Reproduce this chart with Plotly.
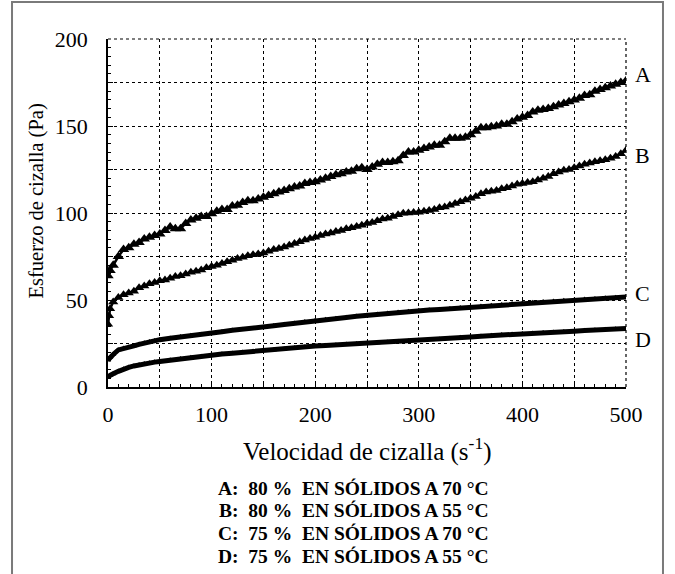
import plotly.graph_objects as go

# ---------------- data ----------------
series_names = ["A", "B", "C", "D"]
legend_lines = [
    "A:  80 %  EN SÓLIDOS A 70 °C",
    "B:  80 %  EN SÓLIDOS A 55 °C",
    "C:  75 %  EN SÓLIDOS A 70 °C",
    "D:  75 %  EN SÓLIDOS A 55 °C",
]
x_tick_vals = [0, 100, 200, 300, 400, 500]
y_tick_vals = [0, 50, 100, 150, 200]

A_x = [0, 2] + list(range(5, 505, 5))
A_y = [64, 67,
       70, 75, 79, 80, 82, 83, 85, 86, 87, 88,
       90, 92, 91, 91, 94, 96, 97, 98, 98, 99.5,
       101, 102, 102, 104, 104.5, 106, 107, 107, 108, 109,
       110, 111, 112, 113, 114, 115, 115.5, 117, 117.5, 118,
       119, 120, 121, 122, 122.5, 123.5, 124, 125.5, 126, 125,
       126.5, 128, 129, 129, 129.5, 130, 133, 135, 135, 136,
       137, 138, 139, 139, 141, 143, 143, 143, 143.5, 145,
       147, 149, 149, 149.5, 150, 151, 151, 152.5, 154, 155,
       156, 158, 159, 159.5, 160, 161, 162, 163, 164, 165,
       166, 167.5, 168, 170, 171, 172, 173, 174, 175, 176]

B_x = [0, 1, 2] + list(range(5, 505, 5))
B_y = [36, 41, 45,
       48.8, 51.5, 53, 54, 55, 57, 58, 59.4, 60, 61,
       61.5, 62.5, 63.5, 64, 65, 66, 66.5, 67.2, 68.5, 69.3,
       70, 71, 72, 72.9, 73.8, 74.5, 75.5, 76, 76.5, 77,
       78, 79, 79.6, 80.5, 81.5, 82.5, 83.5, 84.5, 85.3, 86,
       87, 88, 88.5, 89.3, 90, 91, 91.5, 92.2, 93, 94,
       94.5, 95.5, 96.5, 97, 98, 99, 99.8, 100, 100.3, 100.5,
       101, 101.5, 102, 103, 103.5, 104.5, 105.5, 106.5, 107.5, 108.5,
       109.5, 111, 112, 112.5, 113, 114, 114.5, 115.5, 116.5, 117,
       117.5, 118, 119, 120, 121, 122.5, 123.5, 124.5, 125, 126,
       127, 128, 128.7, 129.5, 130, 130.6, 131.5, 132.5, 134, 136]

CD_x = [0, 2, 5, 10, 15, 20, 25, 30, 35, 40, 45] + list(range(50, 510, 10))
C_y = [15.5, 17, 18.7, 21.3, 22.3, 22.9, 23.6, 24.5, 25.3, 26, 26.6,
       27.2, 28, 28.9, 29.6, 30.2, 31, 31.8, 32.6, 33.1, 33.6,
       34.4, 35.2, 35.9, 36.7, 37.5, 38.2, 38.8, 39.4, 40, 40.6,
       41.2, 41.8, 42.4, 42.9, 43.4, 43.9, 44.2, 44.6, 45, 45.5,
       45.9, 46.4, 46.9, 47.3, 47.8, 48.2, 48.6, 49, 49.3, 49.7,
       50, 50.4, 50.7, 51.1, 51.4, 51.8]
D_y = [6, 6.8, 7.6, 9, 10.3, 11.3, 12.1, 12.8, 13.3, 13.8, 14.3,
       14.7, 15.5, 16.3, 17, 17.6, 18.3, 18.9, 19.4, 20, 20.5,
       20.9, 21.3, 21.8, 22.4, 23, 23.6, 23.9, 24.2, 24.5, 24.8,
       25.1, 25.4, 25.7, 26.1, 26.5, 26.8, 27.2, 27.5, 27.9, 28.4,
       28.8, 29.2, 29.6, 30, 30.3, 30.6, 30.9, 31.2, 31.5, 31.8,
       32.1, 32.4, 32.7, 33, 33.3, 33.6]

series_x = [A_x, B_x, CD_x, CD_x]
series_y = [A_y, B_y, C_y, D_y]

# ---------------- figure ----------------
SERIF = "Times New Roman, Liberation Serif, DejaVu Serif, serif"
fig = go.Figure()

marker_sizes = [10, 9, 5.5, 5.5]
line_widths = [2.5, 2.5, 5, 5]
for name, xs, ys, ms, lw in zip(series_names, series_x, series_y, marker_sizes, line_widths):
    fig.add_trace(go.Scatter(
        x=xs, y=ys, name=name, mode="lines+markers",
        line=dict(color="black", width=lw),
        marker=dict(symbol="triangle-up", size=ms, color="black"),
        showlegend=False, hoverinfo="skip"))

# invisible trace to carry the tick overlay axes
fig.add_trace(go.Scatter(x=[0], y=[0], xaxis="x2", yaxis="y2", mode="markers",
                         marker=dict(opacity=0), showlegend=False, hoverinfo="skip"))

grid = dict(showgrid=True, gridcolor="black", griddash="dot", gridwidth=1)
fig.update_layout(
    width=675, height=574,
    margin=dict(l=108, r=49, t=39, b=187),
    paper_bgcolor="white", plot_bgcolor="white",
    font=dict(family=SERIF, size=22, color="black"),
    xaxis=dict(range=[0, 500], tickvals=x_tick_vals, ticks="outside", ticklen=7,
               tickcolor="rgba(0,0,0,0)", showline=True, linecolor="black", linewidth=1.5,
               zeroline=False, tickfont=dict(family=SERIF, size=22),
               minor=dict(dtick=50, tick0=0, ticks="", **grid), **grid),
    yaxis=dict(range=[0, 200], tickvals=y_tick_vals, ticks="outside", ticklen=14,
               tickcolor="rgba(0,0,0,0)", showline=True, linecolor="black", linewidth=1.5,
               zeroline=False, tickfont=dict(family=SERIF, size=22),
               minor=dict(dtick=25, tick0=0, ticks="", **grid), **grid),
    xaxis2=dict(range=[0, 500], overlaying="x", anchor="y", side="bottom",
                dtick=50, tick0=0, ticks="inside", ticklen=5, tickcolor="black",
                minor=dict(dtick=10, ticks="inside", ticklen=3, tickcolor="black"),
                showticklabels=False, showgrid=False, zeroline=False, showline=False),
    yaxis2=dict(range=[0, 200], overlaying="y", anchor="x", side="left",
                dtick=25, tick0=0, ticks="inside", ticklen=5, tickcolor="black",
                minor=dict(dtick=5, ticks="inside", ticklen=3, tickcolor="black"),
                showticklabels=False, showgrid=False, zeroline=False, showline=False),
)

# dotted top and right border of the plot area
fig.add_shape(type="line", xref="paper", yref="paper", x0=0, x1=1, y0=1, y1=1,
              line=dict(color="black", width=1.2, dash="dot"))
fig.add_shape(type="line", xref="paper", yref="paper", x0=1, x1=1, y0=0, y1=1,
              line=dict(color="black", width=1.2, dash="dot"))
# outer grey frame
fig.add_shape(type="rect", xref="paper", yref="paper", x0=-0.1853, x1=1.0714,
              y0=-0.62, y1=1.106, line=dict(color="#7a7a7a", width=2))

# series labels at the right end
label_shift = [6, -5, 3, -11]
for name, xs, ys, sh in zip(series_names, series_x, series_y, label_shift):
    fig.add_annotation(x=xs[-1], y=ys[-1], text=name, showarrow=False,
                       xanchor="left", xshift=7, yshift=sh,
                       font=dict(family=SERIF, size=22))

# axis titles
fig.add_annotation(xref="paper", yref="paper", x=0.5, y=-0.18, xanchor="center",
                   yanchor="middle",
                   text="Velocidad de cizalla (s<sup>-1</sup>)", showarrow=False,
                   font=dict(family=SERIF, size=25))
fig.add_annotation(xref="paper", yref="paper", x=-0.139, y=0.536, textangle=-90,
                   xanchor="center", yanchor="middle",
                   text="Esfuerzo de cizalla (Pa)", showarrow=False,
                   font=dict(family=SERIF, size=20.5))

# legend lines
legend_y = [-0.293, -0.356, -0.42, -0.486]
for txt, ly in zip(legend_lines, legend_y):
    fig.add_annotation(xref="paper", yref="paper", x=0.474, y=ly,
                       xanchor="center", yanchor="middle",
                       text="<b>" + txt.replace("  ", "\u00a0 ") + "</b>", showarrow=False,
                       font=dict(family=SERIF, size=19.5))

fig.write_html("out.html", post_script="document.body.style.margin='0';",
               config={"displayModeBar": False})
